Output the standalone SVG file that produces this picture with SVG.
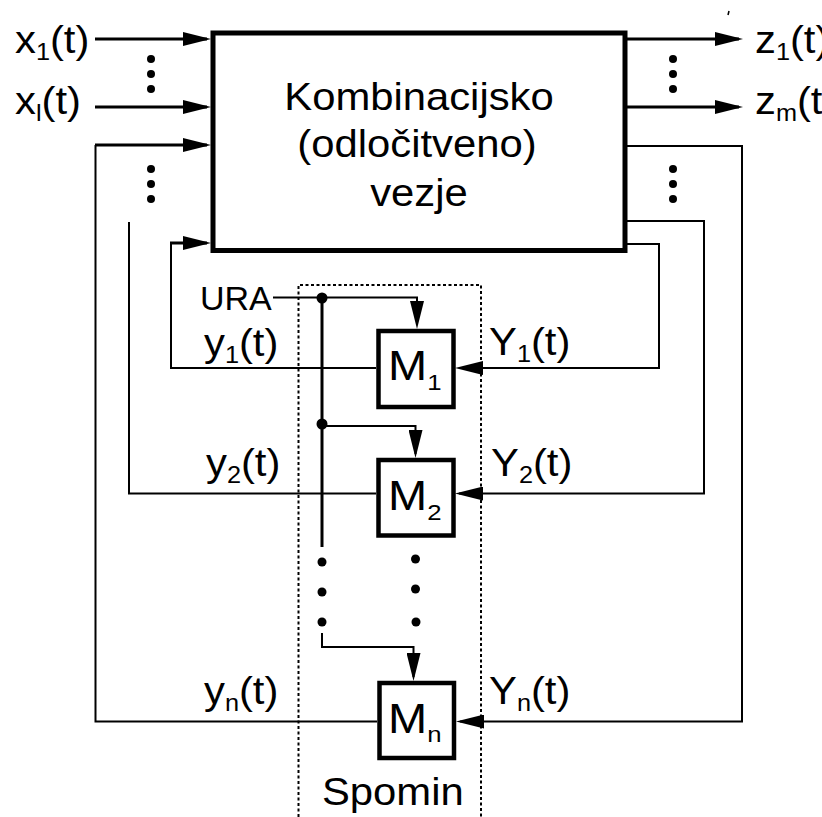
<svg xmlns="http://www.w3.org/2000/svg" width="822" height="817" viewBox="0 0 822 817">
<style>
text{font-family:"Liberation Sans",Arial,sans-serif;fill:#000}
.big{font-size:38px}
.lbl{font-size:38px}
.mlb{font-size:42px}
.ura{font-size:34px}
.sub{font-size:23px}
.thick{fill:none;stroke:#000;stroke-width:3}
.thin{fill:none;stroke:#000;stroke-width:2}
.box{fill:#fff;stroke:#000;stroke-width:5}
.mem{fill:#fff;stroke:#000;stroke-width:4.5}
.dot{fill:#000}
.dotted{fill:none;stroke:#000;stroke-width:2;stroke-dasharray:3 2.5}
</style>
<defs>
<marker id="arr" markerWidth="28" markerHeight="14" refX="24" refY="7" orient="auto" markerUnits="userSpaceOnUse">
<path d="M0,0 L28,7 L0,14 z" fill="#000"/>
</marker>
</defs>
<rect width="822" height="817" fill="#fff"/>

<g id="spomin">
<path class="dotted" d="M298.5,817 V285 H481 V817"/>
<text class="lbl" transform="translate(322,805) scale(1.1,1)">Spomin</text>
</g>

<g id="connectors">
<path class="thick" d="M95,39 H207" marker-end="url(#arr)"/>
<path class="thick" d="M95,107 H207" marker-end="url(#arr)"/>
<path class="thick" d="M627,39 H739" marker-end="url(#arr)"/>
<path class="thick" d="M627,107 H739" marker-end="url(#arr)"/>
<path class="thin" d="M627,146 H742 V721.5 H460" marker-end="url(#arr)"/>
<path class="thin" d="M377,721.5 H95.5 V145"/>
<path class="thick" d="M95,145 H207" marker-end="url(#arr)"/>
<path class="thin" d="M627,221 H704 V493.5 H459" marker-end="url(#arr)"/>
<path class="thin" d="M376,493.5 H129 V222"/>
<path class="thin" d="M627,244 H659 V368 H459" marker-end="url(#arr)"/>
<path class="thin" d="M376,368 H171 V243"/>
<path class="thick" d="M170,243 H207" marker-end="url(#arr)"/>
<path class="thin" d="M273,297.5 H417 V325" marker-end="url(#arr)"/>
<path class="thick" d="M322,298 V547"/>
<path class="thin" d="M322,426 H415.5 V454" marker-end="url(#arr)"/>
<path class="thin" d="M322,633 V647 H413.5 V677" marker-end="url(#arr)"/>
<circle class="dot" cx="322" cy="298" r="5.5"/>
<circle class="dot" cx="322" cy="424" r="5.5"/>
<circle class="dot" cx="322" cy="562" r="4.5"/>
<circle class="dot" cx="322" cy="592" r="4.5"/>
<circle class="dot" cx="322" cy="622" r="4.5"/>
<circle class="dot" cx="415.5" cy="559" r="4.5"/>
<circle class="dot" cx="415.5" cy="589" r="4.5"/>
<circle class="dot" cx="416" cy="622" r="4.5"/>
<circle class="dot" cx="151" cy="59" r="4"/>
<circle class="dot" cx="151" cy="74" r="4"/>
<circle class="dot" cx="151" cy="89" r="4"/>
<circle class="dot" cx="151" cy="169" r="4"/>
<circle class="dot" cx="151" cy="184" r="4"/>
<circle class="dot" cx="151" cy="199" r="4"/>
<circle class="dot" cx="673" cy="59" r="4"/>
<circle class="dot" cx="673" cy="74" r="4"/>
<circle class="dot" cx="673" cy="89" r="4"/>
<circle class="dot" cx="673" cy="169" r="4"/>
<circle class="dot" cx="673" cy="184" r="4"/>
<circle class="dot" cx="673" cy="199" r="4"/>
<line x1="729" y1="11" x2="728" y2="15" stroke="#000" stroke-width="1.5"/>
</g>

<g id="kombinacijsko">
<rect class="box" x="213" y="33" width="412" height="217.5"/>
<text class="big" text-anchor="middle" transform="translate(419,110) scale(1.1,1)">Kombinacijsko</text>
<text class="big" text-anchor="middle" transform="translate(417,157) scale(1.1,1)">(odločitveno)</text>
<text class="big" text-anchor="middle" transform="translate(419,206) scale(1.1,1)">vezje</text>
</g>

<g id="m1">
<rect class="mem" x="378.5" y="331" width="75" height="76"/>
<text class="mlb" transform="translate(388,380) scale(1.12,1)">M<tspan class="sub" dy="10">1</tspan></text>
</g>
<g id="m2">
<rect class="mem" x="378.5" y="460" width="75" height="75.5"/>
<text class="mlb" transform="translate(388,510) scale(1.12,1)">M<tspan class="sub" dy="10">2</tspan></text>
</g>
<g id="mn">
<rect class="mem" x="379.5" y="683" width="74.5" height="75"/>
<text class="mlb" transform="translate(388,733) scale(1.12,1)">M<tspan class="sub" dy="9">n</tspan></text>
</g>

<g id="labels">
<text class="lbl" transform="translate(15,53) scale(1.1,1)">x<tspan class="sub" dy="7">1</tspan><tspan dy="-7">(t)</tspan></text>
<text class="lbl" transform="translate(15,114) scale(1.1,1)">x<tspan class="sub" dy="7">l</tspan><tspan dy="-7">(t)</tspan></text>
<text class="lbl" transform="translate(755,53) scale(1.1,1)">z<tspan class="sub" dy="7">1</tspan><tspan dy="-7">(t)</tspan></text>
<text class="lbl" transform="translate(755,114) scale(1.1,1)">z<tspan class="sub" dy="7">m</tspan><tspan dy="-7">(t)</tspan></text>
<text class="ura" x="200" y="310">URA</text>
<text class="lbl" transform="translate(204,356) scale(1.1,1)">y<tspan class="sub" dy="7">1</tspan><tspan dy="-7">(t)</tspan></text>
<text class="lbl" transform="translate(489,355) scale(1.1,1)">Y<tspan class="sub" dy="7">1</tspan><tspan dy="-7">(t)</tspan></text>
<text class="lbl" transform="translate(206,476) scale(1.1,1)">y<tspan class="sub" dy="7">2</tspan><tspan dy="-7">(t)</tspan></text>
<text class="lbl" transform="translate(491,476) scale(1.1,1)">Y<tspan class="sub" dy="7">2</tspan><tspan dy="-7">(t)</tspan></text>
<text class="lbl" transform="translate(204,704) scale(1.1,1)">y<tspan class="sub" dy="7">n</tspan><tspan dy="-7">(t)</tspan></text>
<text class="lbl" transform="translate(489,704) scale(1.1,1)">Y<tspan class="sub" dy="7">n</tspan><tspan dy="-7">(t)</tspan></text>
</g>
</svg>
